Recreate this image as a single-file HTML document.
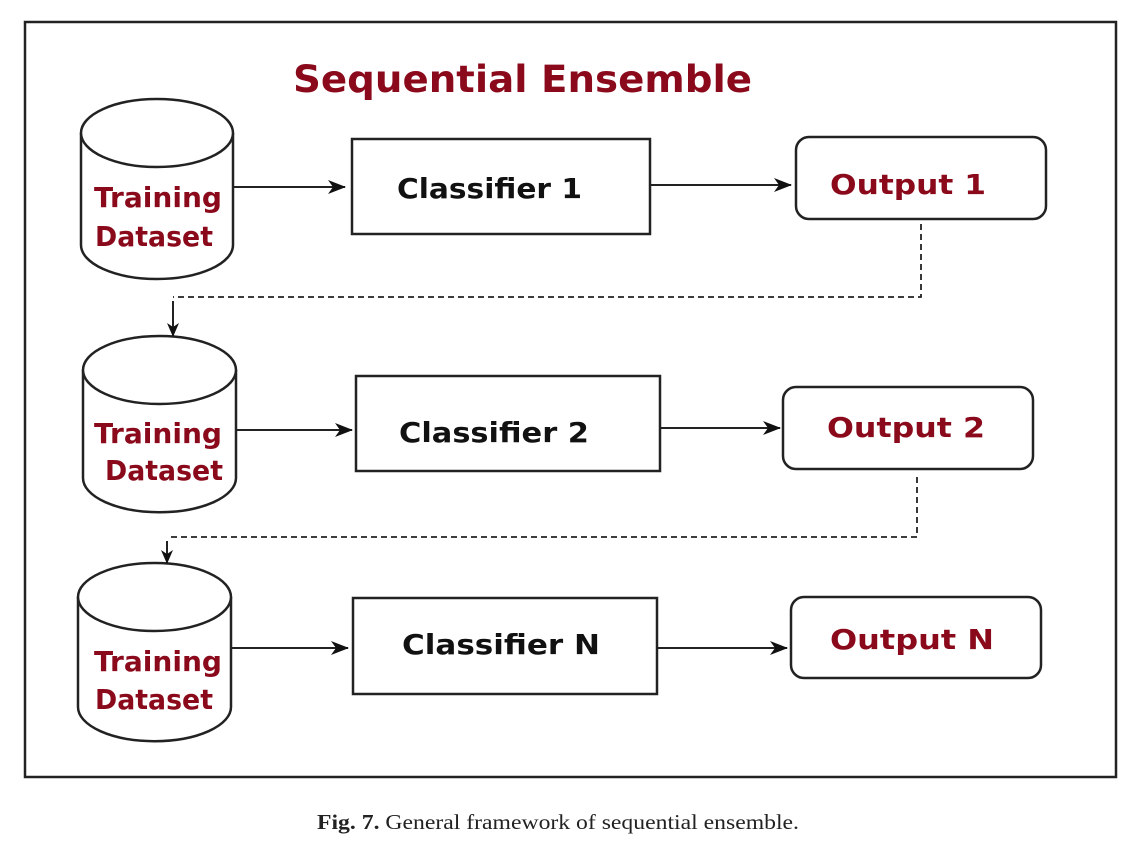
<!DOCTYPE html>
<html><head><meta charset="utf-8"><style>
html,body{margin:0;padding:0;background:#fff;width:1130px;height:846px;overflow:hidden}
svg{display:block}
.r{font-family:"DejaVu Sans","Liberation Sans",sans-serif;font-weight:bold;fill:#8a0a1c}
.k{font-family:"DejaVu Sans","Liberation Sans",sans-serif;font-weight:bold;fill:#111}
</style></head><body>
<svg width="1130" height="846" viewBox="0 0 1130 846" xmlns="http://www.w3.org/2000/svg">
<defs><marker id="a" markerWidth="12" markerHeight="14" refX="6" refY="13" orient="0" markerUnits="userSpaceOnUse"><path d="M0,0 L6,14 L12,0 L6,4 z" fill="#111"/></marker>
<marker id="b" markerWidth="18" markerHeight="16" refX="17" refY="8" orient="auto" markerUnits="userSpaceOnUse"><path d="M0,1 L18,8 L0,15 L5,8 z" fill="#111"/></marker></defs>
<rect x="25" y="22" width="1091" height="755" fill="none" stroke="#222" stroke-width="2.5"/>
<text class="r" x="293" y="92" font-size="37" textLength="459" lengthAdjust="spacingAndGlyphs">Sequential Ensemble</text>
<g fill="#fff" stroke="#222" stroke-width="2.5">
<path d="M81,133 V245 A76,34 0 0 0 233,245 V133"/><ellipse cx="157" cy="133" rx="76" ry="34"/>
<path d="M83,370 V478 A76,34 0 0 0 236,478 V370"/><ellipse cx="159.5" cy="370" rx="76.5" ry="34"/>
<path d="M78,597 V707 A76,34 0 0 0 231,707 V597"/><ellipse cx="154.5" cy="597" rx="76.5" ry="34"/>
<rect x="352" y="139" width="298" height="95"/>
<rect x="356" y="376" width="304" height="95"/>
<rect x="353" y="598" width="304" height="96"/>
<rect x="796" y="137" width="250" height="82" rx="13"/>
<rect x="783" y="387" width="250" height="82" rx="13"/>
<rect x="791" y="597" width="250" height="81" rx="13"/>
</g>
<g class="r" font-size="28">
<text x="94" y="207" textLength="128" lengthAdjust="spacingAndGlyphs">Training</text>
<text x="95" y="246" textLength="118" lengthAdjust="spacingAndGlyphs">Dataset</text>
<text x="94" y="443" textLength="128" lengthAdjust="spacingAndGlyphs">Training</text>
<text x="105" y="480" textLength="118" lengthAdjust="spacingAndGlyphs">Dataset</text>
<text x="94" y="671" textLength="128" lengthAdjust="spacingAndGlyphs">Training</text>
<text x="95" y="709" textLength="118" lengthAdjust="spacingAndGlyphs">Dataset</text>
<text x="830" y="194" textLength="156" lengthAdjust="spacingAndGlyphs">Output 1</text>
<text x="827" y="437" textLength="158" lengthAdjust="spacingAndGlyphs">Output 2</text>
<text x="830" y="649" textLength="164" lengthAdjust="spacingAndGlyphs">Output N</text>
</g>
<g class="k" font-size="28">
<text x="397" y="198" textLength="185" lengthAdjust="spacingAndGlyphs">Classifier 1</text>
<text x="399" y="442" textLength="190" lengthAdjust="spacingAndGlyphs">Classifier 2</text>
<text x="402" y="654" textLength="198" lengthAdjust="spacingAndGlyphs">Classifier N</text>
</g>
<g stroke="#222" stroke-width="2" fill="none">
<line x1="233" y1="187" x2="345" y2="187" marker-end="url(#b)"/>
<line x1="650" y1="185" x2="791" y2="185" marker-end="url(#b)"/>
<line x1="236" y1="430" x2="352" y2="430" marker-end="url(#b)"/>
<line x1="660" y1="428" x2="780" y2="428" marker-end="url(#b)"/>
<line x1="231" y1="648" x2="348" y2="648" marker-end="url(#b)"/>
<line x1="657" y1="648" x2="787" y2="648" marker-end="url(#b)"/>
</g>
<g stroke="#222" stroke-width="1.8" fill="none" stroke-dasharray="6,4">
<polyline points="921,224 921,297 173,297"/>
<polyline points="917,477 917,537 167,537"/>
</g>
<g stroke="#222" stroke-width="2" fill="none">
<line x1="173" y1="301" x2="173" y2="336" marker-end="url(#a)"/>
<line x1="167" y1="541" x2="167" y2="563" marker-end="url(#a)"/>
</g>
<text x="317" y="829" font-family="'Liberation Serif',serif" font-size="21" fill="#222" textLength="482" lengthAdjust="spacingAndGlyphs"><tspan font-weight="bold">Fig. 7.</tspan> General framework of sequential ensemble.</text>
</svg>
</body></html>
